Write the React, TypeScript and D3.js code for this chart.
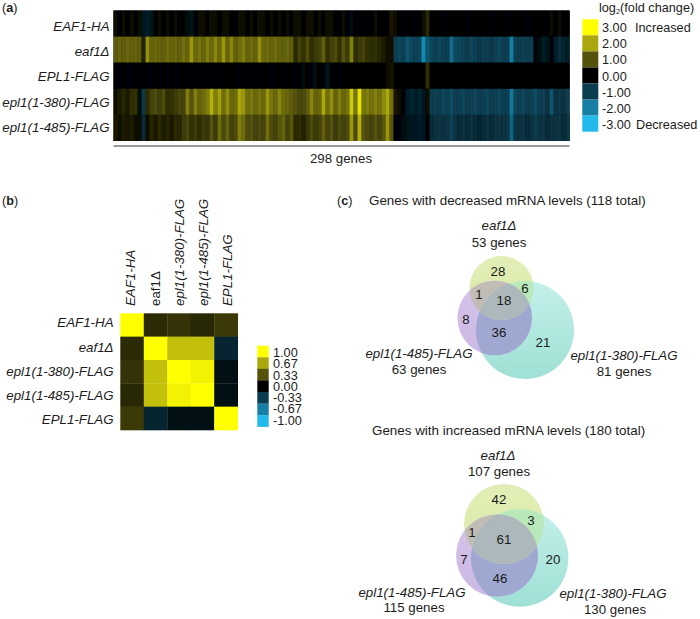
import React from "react";
import * as d3 from "d3";

const FONT = "'Liberation Sans', Arial, sans-serif";
const INK = "#1c1c1c";

const strainsA = ["EAF1-HA", "eaf1Δ", "EPL1-FLAG", "epl1(1-380)-FLAG", "epl1(1-485)-FLAG"];
const strainsB = ["EAF1-HA", "eaf1Δ", "epl1(1-380)-FLAG", "epl1(1-485)-FLAG", "EPL1-FLAG"];

const rowEaf1Ha = [
  0.1,-.1,.1,0,.15,-.1,.1,-.4,-.5,-.3,.05,.1,0,.15,0,.1,-.05,.05,-.2,-.3,-.1,.1,.15,.05,.2,.1,0,.15,.1,.05,
  0.05,.1,.15,.05,.1,.05,.15,.1,.05,.1,.05,.1,.05,.1,.05,.2,.1,0,.15,.2,.05,.1,.05,.15,.1,0,.05,.1,-.1,-.15,
  -.05,-.1,-.05,-.05,.05,.1,-.05,0,.05,.3,.1,.05,-.1,.05,0,-.1,.05,.1,.5,0,-.05,.05,-.1,-.05,0,.05,-.05,0,-.1,-.05,
  0,-.05,0,-.05,-.1,0,-.05,0,-.1,-.05,0,-.05,0,-.1,-.05,0,.05,-.05,0,.1,-.05,.1,.05,0,
];
const rowEaf1Del = [
  1.1,1.2,1.1,1.25,1.15,1.2,1.1,.4,1.7,1.2,1.25,1.2,1.15,1.3,1.2,1.25,1.15,1.35,1.2,1.8,1.25,1.4,1.2,1.5,1.25,1.6,1.25,1.8,1.2,1.6,
  1.15,1.3,1.5,1.2,1.3,1.15,1.7,1.25,1.3,1.2,1.3,1.2,1.15,1.25,1.1,.5,.8,.6,.9,.55,.7,.8,1.1,.6,.8,.9,.6,1.0,.7,1.5,
  .55,.7,.8,.6,.55,.6,.45,.35,.2,.1,-1.0,-1.15,-1.05,-1.4,-1.15,-1.05,-1.15,-2.2,-1.4,-1.15,-1.05,-1.15,-1.05,-1.0,-1.7,-1.2,-1.15,-1.05,-1.0,-1.15,
  -1.05,-.9,-1.05,-1.0,-.9,-1.05,-1.15,-1.0,-1.05,-2.0,-1.05,-1.0,-1.05,-1.0,-1.0,-.1,-.2,-.5,-.3,-.1,-.5,-.7,-.6,-.5,
];
const rowEpl1Flag = [
  -.05,-.1,-.05,-.1,-.1,-.05,-.1,-.05,-.1,-.1,-.05,-.1,-.05,-.1,-.05,-.1,-.05,-.05,-.1,-.05,-.05,-.1,-.05,.05,-.05,-.1,-.05,0,-.05,-.05,
  -.05,-.1,-.05,-.1,-.05,-.05,-.1,-.05,-.05,-.1,-.05,-.05,-.1,-.05,-.05,-.1,-.05,-.15,-.05,-.1,-.2,-.05,-.1,-.3,-.1,-.05,-.1,-.05,.05,0,
  0,.05,0,.05,0,.05,0,.05,.1,.25,0,.05,0,0,.05,0,.05,.05,.55,0,0,0,-.05,0,0,.05,0,0,0,-.05,
  0,-.05,0,0,-.05,0,0,-.05,0,0,-.05,0,-.05,0,0,-.05,0,0,.05,0,-.05,0,0,-.05,
];
const rowEpl380 = [
  .2,.35,.45,.3,.55,.6,-.2,-.9,.55,.8,.9,.75,.9,.55,.6,.7,.85,.8,1.5,1.0,1.5,1.2,1.3,1.5,2.1,1.5,1.9,1.3,1.7,1.25,
  1.3,2.0,1.8,1.3,1.45,1.25,1.4,1.25,1.8,1.4,1.25,1.6,1.3,1.25,1.1,1.0,.85,.9,1.1,1.6,1.2,1.25,2.0,1.3,1.7,1.2,1.5,1.25,1.4,2.4,
  1.4,2.7,1.4,1.5,1.35,1.55,1.35,1.65,2.0,1.35,.3,.1,-.1,-.5,-.6,-.5,-.6,-.4,.1,-1.0,-1.05,-1.0,-1.15,-1.05,-1.25,-1.0,-1.05,-1.15,-1.0,-1.05,
  -1.15,-1.0,-1.05,-1.15,-1.0,-1.05,-1.15,-1.0,-1.05,-1.9,-1.15,-1.05,-1.15,-1.0,-1.05,-1.25,-1.0,-1.05,-.8,-1.4,-.8,-.9,-.8,-1.0,
];
const rowEpl485 = [
  .3,.2,.35,.3,.35,.2,.1,-.7,.2,.45,.3,.5,.35,.45,.3,.5,.45,.7,.85,.6,.7,.55,.7,.65,1.0,.7,1.3,.9,1.2,.8,
  .9,1.5,1.3,.9,1.0,.8,.9,.8,1.3,.9,.8,1.05,1.2,.8,1.05,.5,.55,.4,.65,.9,.7,.8,1.15,.8,1.0,.7,.9,.8,.9,1.8,
  .9,2.1,1.0,.9,.8,1.0,.8,1.05,1.8,1.05,-.1,-.1,-.2,-.3,-.4,-.4,-.5,-.4,.05,-.7,-.8,-.85,-.8,-.85,-1.05,-.8,-.7,-.8,-.7,-.8,
  -.7,-.6,-.7,-.8,-.7,-.8,-.85,-.8,-.85,-1.6,-.85,-.8,-.85,-.7,-.8,-1.0,-.8,-.85,-.7,-.8,-.8,-.85,-.7,-.8,
];
const heatRows = [rowEaf1Ha, rowEaf1Del, rowEpl1Flag, rowEpl380, rowEpl485];

const corrEaf1Ha = [1, 0.17, 0.2, 0.16, 0.23];
const corrEaf1Del = [0.17, 1, 0.76, 0.76, -0.2];
const corrEpl380 = [0.2, 0.76, 1, 0.95, -0.08];
const corrEpl485 = [0.16, 0.76, 0.95, 1, -0.08];
const corrEpl1Flag = [0.23, -0.2, -0.08, -0.08, 1];
const corrRows = [corrEaf1Ha, corrEaf1Del, corrEpl380, corrEpl485, corrEpl1Flag];

const scaleColors = ["#23b9ea", "#167fa3", "#0a3d50", "#000000", "#55530a", "#aba80e", "#ffff00"];
const foldTicks = [3, 2, 1, 0, -1, -2, -3];
const corrTicks = [1, 0.67, 0.33, 0, -0.33, -0.67, -1];

const foldColor = d3.scaleLinear<string>().domain([-3, -2, -1, 0, 1, 2, 3]).range(scaleColors).clamp(true);
const corrColor = d3.scaleLinear<string>().domain([-1, -0.67, -0.33, 0, 0.33, 0.67, 1]).range(scaleColors).clamp(true);

const vennDecreased = { eaf: { cx: 501.5, cy: 288, r: 32 }, teal: { cx: 525, cy: 330, r: 49 }, purple: { cx: 494.7, cy: 318, r: 37.3 } };
const vennIncreased = { eaf: { cx: 504, cy: 524, r: 40 }, teal: { cx: 519.7, cy: 558, r: 48.7 }, purple: { cx: 497, cy: 555.5, r: 41 } };

const decreasedCounts = [
  { t: "28", x: 498, y: 275.7 }, { t: "1", x: 479, y: 299 }, { t: "18", x: 504, y: 305 }, { t: "6", x: 525, y: 293 },
  { t: "8", x: 466, y: 324 }, { t: "36", x: 499, y: 337 }, { t: "21", x: 543, y: 347 },
];
const increasedCounts = [
  { t: "42", x: 499, y: 504 }, { t: "1", x: 472, y: 537 }, { t: "61", x: 504, y: 544 }, { t: "3", x: 531, y: 525 },
  { t: "7", x: 464, y: 564 }, { t: "20", x: 553, y: 564 }, { t: "46", x: 500, y: 583 },
];

const Label = ({ x, y, children, anchor = "middle", italic = false, size = 13.3, transform }: any) => (
  <text x={x} y={y} textAnchor={anchor} fontStyle={italic ? "italic" : "normal"} fontSize={size} fill={INK} transform={transform}>
    {children}
  </text>
);

const PanelTag = ({ x, y, letter }: any) => (
  <text x={x} y={y} fontSize={12.6} fill={INK}>
    (<tspan fontWeight="bold">{letter}</tspan>)
  </text>
);

const Venn = ({ id, sets }: any) => {
  const { eaf, teal, purple } = sets;
  return (
    <g>
      <defs>
        <clipPath id={`${id}E`}><circle {...eaf} /></clipPath>
        <clipPath id={`${id}T`}><circle {...teal} /></clipPath>
      </defs>
      <circle {...eaf} fill="url(#gEaf)" />
      <circle {...teal} fill="url(#gTeal)" />
      <circle {...purple} fill="url(#gPurple)" />
      <g clipPath={`url(#${id}T)`}>
        <circle {...purple} fill="#9fa8d1" />
      </g>
      <g clipPath={`url(#${id}E)`}>
        <circle {...teal} fill="#b9e8ba" />
        <circle {...purple} fill="#c1bdb6" />
        <g clipPath={`url(#${id}T)`}>
          <circle {...purple} fill="#adb8bc" />
        </g>
      </g>
    </g>
  );
};

export default function App() {
  const nGenes = rowEaf1Ha.length;
  const hx = d3.scaleLinear().domain([0, nGenes]).range([113.5, 569.5]);
  const hy = d3.scaleBand<string>().domain(strainsA).range([10.5, 141]);
  const lgA = d3.scaleBand<number>().domain(foldTicks).range([19.3, 131.7]);

  const cx = d3.scaleBand<string>().domain(strainsB).range([120.3, 237.7]);
  const cy = d3.scaleBand<string>().domain(strainsB).range([313.3, 430]);
  const lgB = d3.scaleBand<number>().domain(corrTicks).range([345.7, 426.7]);
  const lgBText = d3.scalePoint<number>().domain(corrTicks).range([357, 424.5]);

  const rowBaseA = [30.5, 56, 81, 107, 131.5];
  const rowBaseB = [327, 352, 376, 400, 424];
  const colBaseB = [135, 159.5, 184, 208, 232];

  return (
    <svg width={700} height={619} style={{ position: "absolute", left: 0, top: 0, fontFamily: FONT, background: "#fff" }}>
      <defs>
        <filter id="soft" x="-2%" y="-2%" width="104%" height="104%">
          <feGaussianBlur stdDeviation="0.6 0.4" />
        </filter>
        <linearGradient id="gEaf" x1="0" y1="0" x2="0" y2="1">
          <stop offset="0" stopColor="#e2eeb6" />
          <stop offset="1" stopColor="#d8e9a8" />
        </linearGradient>
        <linearGradient id="gTeal" x1="0" y1="0" x2="0" y2="1">
          <stop offset="0" stopColor="#c3f0ea" />
          <stop offset="1" stopColor="#9fe0d5" />
        </linearGradient>
        <linearGradient id="gPurple" x1="0" y1="0" x2="0" y2="1">
          <stop offset="0" stopColor="#d6c4ea" />
          <stop offset="1" stopColor="#cbb8e4" />
        </linearGradient>
      </defs>

      <PanelTag x={2} y={12} letter="a" />
      <g filter="url(#soft)">
        <rect x={113.5} y={10.5} width={456} height={130.5} fill="#000" />
        {heatRows.map((row, r) =>
          row.map((v, i) => (
            <rect key={`${r}-${i}`} x={hx(i)} y={hy(strainsA[r])} width={hx(i + 1) - hx(i) + 0.3} height={hy.bandwidth()} fill={foldColor(v)} />
          ))
        )}
      </g>
      {strainsA.map((s, r) => (
        <Label key={s} x={109.5} y={rowBaseA[r]} anchor="end" italic>{s}</Label>
      ))}
      <line x1={113.5} x2={569.5} y1={146} y2={146} stroke="#333" strokeWidth={1} />
      <Label x={341} y={163}>298 genes</Label>

      {foldTicks.map((t) => (
        <rect key={t} x={582.3} y={lgA(t)} width={16} height={lgA.bandwidth()} fill={foldColor(t)} />
      ))}
      <text x={599} y={12} fontSize={12.7} fill={INK}>
        log<tspan fontSize={7.5} dy={1.5}>2</tspan><tspan dy={-1.5}>(fold change)</tspan>
      </text>
      {foldTicks.map((t) => (
        <Label key={t} x={602} y={lgA(t)! + lgA.bandwidth() / 2 + 5} anchor="start" size={12.7}>{t.toFixed(2)}</Label>
      ))}
      <Label x={635} y={lgA(3)! + 13} anchor="start" size={12.7}>Increased</Label>
      <Label x={636} y={lgA(-3)! + 13} anchor="start" size={12.7}>Decreased</Label>

      <PanelTag x={2} y={205} letter="b" />
      {corrRows.map((row, r) =>
        row.map((v, c) => (
          <rect key={`${r}-${c}`} x={cx(strainsB[c])} y={cy(strainsB[r])} width={cx.bandwidth() + 0.3} height={cy.bandwidth() + 0.3} fill={corrColor(v)} />
        ))
      )}
      {strainsB.map((s, r) => (
        <Label key={s} x={113.5} y={rowBaseB[r]} anchor="end" italic>{s}</Label>
      ))}
      {strainsB.map((s, c) => (
        <Label key={s} x={colBaseB[c]} y={306} anchor="start" italic={s !== "eaf1Δ"} transform={`rotate(-90 ${colBaseB[c]} 306)`}>{s}</Label>
      ))}
      {corrTicks.map((t) => (
        <rect key={t} x={257.3} y={lgB(t)} width={11.4} height={lgB.bandwidth() + 0.2} fill={corrColor(t)} />
      ))}
      {corrTicks.map((t) => (
        <Label key={t} x={273} y={lgBText(t)} anchor="start" size={12.7}>{t.toFixed(2)}</Label>
      ))}

      <PanelTag x={337} y={205} letter="c" />
      <Label x={369} y={205} anchor="start" size={13.4}>Genes with decreased  mRNA levels (118 total)</Label>
      <Venn id="vd" sets={vennDecreased} />
      <Label x={499} y={230} italic>eaf1Δ</Label>
      <Label x={499} y={246.7}>53 genes</Label>
      {decreasedCounts.map((d) => <Label key={d.t} x={d.x} y={d.y}>{d.t}</Label>)}
      <Label x={419} y={358} italic>epl1(1-485)-FLAG</Label>
      <Label x={419} y={374}>63 genes</Label>
      <Label x={624} y={360} italic>epl1(1-380)-FLAG</Label>
      <Label x={624} y={376}>81 genes</Label>

      <Label x={372} y={435} anchor="start" size={13.4}>Genes with increased mRNA levels (180 total)</Label>
      <Venn id="vi" sets={vennIncreased} />
      <Label x={498} y={460} italic>eaf1Δ</Label>
      <Label x={499} y={476}>107 genes</Label>
      {increasedCounts.map((d) => <Label key={d.t} x={d.x} y={d.y}>{d.t}</Label>)}
      <Label x={412} y={597} italic>epl1(1-485)-FLAG</Label>
      <Label x={414} y={612}>115 genes</Label>
      <Label x={613} y={598} italic>epl1(1-380)-FLAG</Label>
      <Label x={615} y={614}>130 genes</Label>
    </svg>
  );
}
